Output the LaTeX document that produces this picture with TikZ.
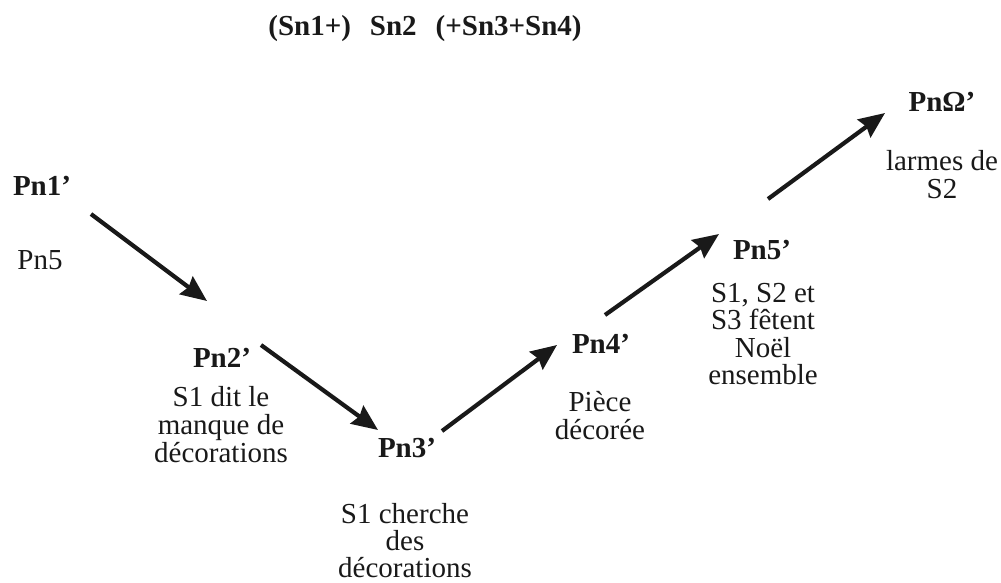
\documentclass[tikz,border=0pt]{standalone}
\usepackage{fontspec}
\setmainfont{Liberation Serif}
\usetikzlibrary{arrows.meta}
\definecolor{ink}{gray}{0.1}
\tikzset{
  head/.style={font=\fontsize{29}{29}\selectfont\bfseries, inner sep=0pt, anchor=base, text=ink},
  lab/.style={font=\fontsize{29}{28}\selectfont, inner sep=0pt, anchor=north, align=center, text=ink},
  arr/.style={draw=ink, line width=4.2pt, -{Stealth[length=26pt,width=22pt,inset=3pt]}},
}
\begin{document}
\begin{tikzpicture}[x=1pt,y=-1pt]
\useasboundingbox (0,0) rectangle (1001,582);
\node[head] (title) at (425,35) {(Sn1+)\hspace{19pt}Sn2\hspace{19pt}(+Sn3+Sn4)};
\node[head] (p1) at (42,195) {Pn1’};
\node[lab]  (l1) at (40,250) {Pn5};
\node[head] (p2) at (222,367) {Pn2’};
\node[lab]  (l2) at (221,386) {S1 dit le\\manque de\\décorations};
\node[head] (p3) at (407,457) {Pn3’};
\node[lab, font=\fontsize{29}{27}\selectfont] (l3) at (405,503) {S1 cherche\\des\\décorations};
\node[head] (p4) at (601,353) {Pn4’};
\node[lab]  (l4) at (600,391) {Pièce\\décorée};
\node[head] (p5) at (762,259) {Pn5’};
\node[lab, font=\fontsize{29}{27.5}\selectfont] (l5) at (763,283) {S1, S2 et\\S3 fêtent\\Noël\\ensemble};
\node[head] (p6) at (942,111) {PnΩ’};
\node[lab]  (l6) at (942,150) {larmes de\\S2};
\draw[arr] ([shift={(49,19)}]p1.base) -- ([shift={(-15,-66)}]p2.base);
\draw[arr] ([shift={(39,-22)}]p2.base) -- ([shift={(-29,-27)}]p3.base);
\draw[arr] ([shift={(35,-26)}]p3.base) -- ([shift={(-44,-8)}]p4.base);
\draw[arr] ([shift={(4,-38)}]p4.base) -- ([shift={(-43,-25)}]p5.base);
\draw[arr] ([shift={(6,-60)}]p5.base) -- ([shift={(-57,2)}]p6.base);
\end{tikzpicture}
\end{document}
